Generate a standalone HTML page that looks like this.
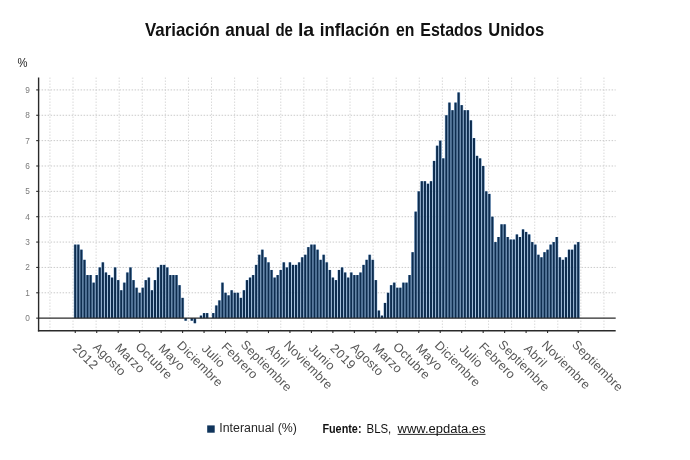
<!DOCTYPE html>
<html lang="es"><head><meta charset="utf-8"><title>Variación anual de la inflación en Estados Unidos</title>
<style>html,body{margin:0;padding:0;background:#fff}svg{display:block}text{font-family:"Liberation Sans",Arial,sans-serif}</style></head><body>
<svg width="690" height="460" viewBox="0 0 690 460">
<rect width="690" height="460" fill="#fff"/>
<text y="35.5" font-size="17.7" font-weight="bold" fill="#111"><tspan x="145.0" textLength="74.9" lengthAdjust="spacingAndGlyphs">Variación</tspan> <tspan x="225.2" textLength="44.7" lengthAdjust="spacingAndGlyphs">anual</tspan> <tspan x="275.4" textLength="17.5" lengthAdjust="spacingAndGlyphs">de</tspan> <tspan x="297.9" textLength="16.3" lengthAdjust="spacingAndGlyphs">la</tspan> <tspan x="319.8" textLength="69.7" lengthAdjust="spacingAndGlyphs">inflación</tspan> <tspan x="396.0" textLength="18.4" lengthAdjust="spacingAndGlyphs">en</tspan> <tspan x="420.3" textLength="62.1" lengthAdjust="spacingAndGlyphs">Estados</tspan> <tspan x="488.3" textLength="55.9" lengthAdjust="spacingAndGlyphs">Unidos</tspan></text>
<text x="17.6" y="66.9" font-size="12.5" fill="#222" textLength="10" lengthAdjust="spacingAndGlyphs">%</text>
<g stroke="#d0d0d0" stroke-width="0.8" stroke-dasharray="1.5,1.5" fill="none">
<line x1="49.94" y1="77.50" x2="49.94" y2="330.75"/>
<line x1="73.03" y1="77.50" x2="73.03" y2="330.75"/>
<line x1="96.11" y1="77.50" x2="96.11" y2="330.75"/>
<line x1="119.19" y1="77.50" x2="119.19" y2="330.75"/>
<line x1="142.28" y1="77.50" x2="142.28" y2="330.75"/>
<line x1="165.36" y1="77.50" x2="165.36" y2="330.75"/>
<line x1="188.45" y1="77.50" x2="188.45" y2="330.75"/>
<line x1="211.53" y1="77.50" x2="211.53" y2="330.75"/>
<line x1="234.61" y1="77.50" x2="234.61" y2="330.75"/>
<line x1="257.70" y1="77.50" x2="257.70" y2="330.75"/>
<line x1="280.78" y1="77.50" x2="280.78" y2="330.75"/>
<line x1="303.87" y1="77.50" x2="303.87" y2="330.75"/>
<line x1="326.95" y1="77.50" x2="326.95" y2="330.75"/>
<line x1="350.03" y1="77.50" x2="350.03" y2="330.75"/>
<line x1="373.12" y1="77.50" x2="373.12" y2="330.75"/>
<line x1="396.20" y1="77.50" x2="396.20" y2="330.75"/>
<line x1="419.29" y1="77.50" x2="419.29" y2="330.75"/>
<line x1="442.37" y1="77.50" x2="442.37" y2="330.75"/>
<line x1="465.45" y1="77.50" x2="465.45" y2="330.75"/>
<line x1="488.54" y1="77.50" x2="488.54" y2="330.75"/>
<line x1="511.62" y1="77.50" x2="511.62" y2="330.75"/>
<line x1="534.71" y1="77.50" x2="534.71" y2="330.75"/>
<line x1="557.79" y1="77.50" x2="557.79" y2="330.75"/>
<line x1="580.87" y1="77.50" x2="580.87" y2="330.75"/>
<line x1="603.96" y1="77.50" x2="603.96" y2="330.75"/>
</g>
<g stroke="#cacaca" stroke-width="1" stroke-dasharray="1.5,1.5" fill="none">
<line x1="38.60" y1="292.79" x2="615.70" y2="292.79"/>
<line x1="38.60" y1="267.43" x2="615.70" y2="267.43"/>
<line x1="38.60" y1="242.07" x2="615.70" y2="242.07"/>
<line x1="38.60" y1="216.71" x2="615.70" y2="216.71"/>
<line x1="38.60" y1="191.35" x2="615.70" y2="191.35"/>
<line x1="38.60" y1="165.99" x2="615.70" y2="165.99"/>
<line x1="38.60" y1="140.63" x2="615.70" y2="140.63"/>
<line x1="38.60" y1="115.27" x2="615.70" y2="115.27"/>
<line x1="38.60" y1="89.91" x2="615.70" y2="89.91"/>
</g>
<g fill="#97bbe0">
<rect x="73.72" y="244.61" width="3.07" height="73.54"/>
<rect x="76.78" y="244.61" width="3.07" height="73.54"/>
<rect x="79.85" y="249.68" width="3.07" height="68.47"/>
<rect x="82.92" y="259.82" width="3.07" height="58.33"/>
<rect x="85.98" y="275.04" width="3.07" height="43.11"/>
<rect x="89.05" y="275.04" width="3.07" height="43.11"/>
<rect x="92.12" y="282.65" width="3.07" height="35.50"/>
<rect x="95.19" y="275.04" width="3.07" height="43.11"/>
<rect x="98.25" y="267.43" width="3.07" height="50.72"/>
<rect x="101.32" y="262.36" width="3.07" height="55.79"/>
<rect x="104.39" y="272.50" width="3.07" height="45.65"/>
<rect x="107.45" y="275.04" width="3.07" height="43.11"/>
<rect x="110.52" y="277.57" width="3.07" height="40.58"/>
<rect x="113.59" y="267.43" width="3.07" height="50.72"/>
<rect x="116.65" y="280.11" width="3.07" height="38.04"/>
<rect x="119.72" y="290.25" width="3.07" height="27.90"/>
<rect x="122.79" y="282.65" width="3.07" height="35.50"/>
<rect x="125.86" y="272.50" width="3.07" height="45.65"/>
<rect x="128.92" y="267.43" width="3.07" height="50.72"/>
<rect x="131.99" y="280.11" width="3.07" height="38.04"/>
<rect x="135.06" y="287.72" width="3.07" height="30.43"/>
<rect x="138.12" y="292.79" width="3.07" height="25.36"/>
<rect x="141.19" y="287.72" width="3.07" height="30.43"/>
<rect x="144.26" y="280.11" width="3.07" height="38.04"/>
<rect x="147.32" y="277.57" width="3.07" height="40.58"/>
<rect x="150.39" y="290.25" width="3.07" height="27.90"/>
<rect x="153.46" y="280.11" width="3.07" height="38.04"/>
<rect x="156.53" y="267.43" width="3.07" height="50.72"/>
<rect x="159.59" y="264.89" width="3.07" height="53.26"/>
<rect x="162.66" y="264.89" width="3.07" height="53.26"/>
<rect x="165.73" y="267.43" width="3.07" height="50.72"/>
<rect x="168.79" y="275.04" width="3.07" height="43.11"/>
<rect x="171.86" y="275.04" width="3.07" height="43.11"/>
<rect x="174.93" y="275.04" width="3.07" height="43.11"/>
<rect x="177.99" y="285.18" width="3.07" height="32.97"/>
<rect x="181.06" y="297.86" width="3.07" height="20.29"/>
<rect x="184.13" y="318.15" width="3.07" height="2.54"/>
<rect x="190.26" y="318.15" width="3.07" height="2.54"/>
<rect x="193.33" y="318.15" width="3.07" height="5.07"/>
<rect x="199.46" y="315.61" width="3.07" height="2.54"/>
<rect x="202.53" y="313.08" width="3.07" height="5.07"/>
<rect x="205.60" y="313.08" width="3.07" height="5.07"/>
<rect x="211.73" y="313.08" width="3.07" height="5.07"/>
<rect x="214.80" y="305.47" width="3.07" height="12.68"/>
<rect x="217.87" y="300.40" width="3.07" height="17.75"/>
<rect x="220.93" y="282.65" width="3.07" height="35.50"/>
<rect x="224.00" y="292.79" width="3.07" height="25.36"/>
<rect x="227.07" y="295.33" width="3.07" height="22.82"/>
<rect x="230.13" y="290.25" width="3.07" height="27.90"/>
<rect x="233.20" y="292.79" width="3.07" height="25.36"/>
<rect x="236.27" y="292.79" width="3.07" height="25.36"/>
<rect x="239.33" y="297.86" width="3.07" height="20.29"/>
<rect x="242.40" y="290.25" width="3.07" height="27.90"/>
<rect x="245.47" y="280.11" width="3.07" height="38.04"/>
<rect x="248.54" y="277.57" width="3.07" height="40.58"/>
<rect x="251.60" y="275.04" width="3.07" height="43.11"/>
<rect x="254.67" y="264.89" width="3.07" height="53.26"/>
<rect x="257.74" y="254.75" width="3.07" height="63.40"/>
<rect x="260.80" y="249.68" width="3.07" height="68.47"/>
<rect x="263.87" y="257.29" width="3.07" height="60.86"/>
<rect x="266.94" y="262.36" width="3.07" height="55.79"/>
<rect x="270.00" y="269.97" width="3.07" height="48.18"/>
<rect x="273.07" y="277.57" width="3.07" height="40.58"/>
<rect x="276.14" y="275.04" width="3.07" height="43.11"/>
<rect x="279.21" y="269.97" width="3.07" height="48.18"/>
<rect x="282.27" y="262.36" width="3.07" height="55.79"/>
<rect x="285.34" y="267.43" width="3.07" height="50.72"/>
<rect x="288.41" y="262.36" width="3.07" height="55.79"/>
<rect x="291.47" y="264.89" width="3.07" height="53.26"/>
<rect x="294.54" y="264.89" width="3.07" height="53.26"/>
<rect x="297.61" y="262.36" width="3.07" height="55.79"/>
<rect x="300.67" y="257.29" width="3.07" height="60.86"/>
<rect x="303.74" y="254.75" width="3.07" height="63.40"/>
<rect x="306.81" y="247.14" width="3.07" height="71.01"/>
<rect x="309.88" y="244.61" width="3.07" height="73.54"/>
<rect x="312.94" y="244.61" width="3.07" height="73.54"/>
<rect x="316.01" y="249.68" width="3.07" height="68.47"/>
<rect x="319.08" y="259.82" width="3.07" height="58.33"/>
<rect x="322.14" y="254.75" width="3.07" height="63.40"/>
<rect x="325.21" y="262.36" width="3.07" height="55.79"/>
<rect x="328.28" y="269.97" width="3.07" height="48.18"/>
<rect x="331.34" y="277.57" width="3.07" height="40.58"/>
<rect x="334.41" y="280.11" width="3.07" height="38.04"/>
<rect x="337.48" y="269.97" width="3.07" height="48.18"/>
<rect x="340.55" y="267.43" width="3.07" height="50.72"/>
<rect x="343.61" y="272.50" width="3.07" height="45.65"/>
<rect x="346.68" y="277.57" width="3.07" height="40.58"/>
<rect x="349.75" y="272.50" width="3.07" height="45.65"/>
<rect x="352.81" y="275.04" width="3.07" height="43.11"/>
<rect x="355.88" y="275.04" width="3.07" height="43.11"/>
<rect x="358.95" y="272.50" width="3.07" height="45.65"/>
<rect x="362.01" y="264.89" width="3.07" height="53.26"/>
<rect x="365.08" y="259.82" width="3.07" height="58.33"/>
<rect x="368.15" y="254.75" width="3.07" height="63.40"/>
<rect x="371.22" y="259.82" width="3.07" height="58.33"/>
<rect x="374.28" y="280.11" width="3.07" height="38.04"/>
<rect x="377.35" y="310.54" width="3.07" height="7.61"/>
<rect x="380.42" y="315.61" width="3.07" height="2.54"/>
<rect x="383.48" y="302.93" width="3.07" height="15.22"/>
<rect x="386.55" y="292.79" width="3.07" height="25.36"/>
<rect x="389.62" y="285.18" width="3.07" height="32.97"/>
<rect x="392.68" y="282.65" width="3.07" height="35.50"/>
<rect x="395.75" y="287.72" width="3.07" height="30.43"/>
<rect x="398.82" y="287.72" width="3.07" height="30.43"/>
<rect x="401.89" y="282.65" width="3.07" height="35.50"/>
<rect x="404.95" y="282.65" width="3.07" height="35.50"/>
<rect x="408.02" y="275.04" width="3.07" height="43.11"/>
<rect x="411.09" y="252.21" width="3.07" height="65.94"/>
<rect x="414.15" y="211.64" width="3.07" height="106.51"/>
<rect x="417.22" y="191.35" width="3.07" height="126.80"/>
<rect x="420.29" y="181.21" width="3.07" height="136.94"/>
<rect x="423.35" y="181.21" width="3.07" height="136.94"/>
<rect x="426.42" y="183.74" width="3.07" height="134.41"/>
<rect x="429.49" y="181.21" width="3.07" height="136.94"/>
<rect x="432.56" y="160.92" width="3.07" height="157.23"/>
<rect x="435.62" y="145.70" width="3.07" height="172.45"/>
<rect x="438.69" y="140.63" width="3.07" height="177.52"/>
<rect x="441.76" y="158.38" width="3.07" height="159.77"/>
<rect x="444.82" y="115.27" width="3.07" height="202.88"/>
<rect x="447.89" y="102.59" width="3.07" height="215.56"/>
<rect x="450.96" y="110.20" width="3.07" height="207.95"/>
<rect x="454.02" y="102.59" width="3.07" height="215.56"/>
<rect x="457.09" y="92.45" width="3.07" height="225.70"/>
<rect x="460.16" y="105.13" width="3.07" height="213.02"/>
<rect x="463.23" y="110.20" width="3.07" height="207.95"/>
<rect x="466.29" y="110.20" width="3.07" height="207.95"/>
<rect x="469.36" y="120.34" width="3.07" height="197.81"/>
<rect x="472.43" y="138.09" width="3.07" height="180.06"/>
<rect x="475.49" y="155.85" width="3.07" height="162.30"/>
<rect x="478.56" y="158.38" width="3.07" height="159.77"/>
<rect x="481.63" y="165.99" width="3.07" height="152.16"/>
<rect x="484.69" y="191.35" width="3.07" height="126.80"/>
<rect x="487.76" y="193.89" width="3.07" height="124.26"/>
<rect x="490.83" y="216.71" width="3.07" height="101.44"/>
<rect x="493.90" y="242.07" width="3.07" height="76.08"/>
<rect x="496.96" y="237.00" width="3.07" height="81.15"/>
<rect x="500.03" y="224.32" width="3.07" height="93.83"/>
<rect x="503.10" y="224.32" width="3.07" height="93.83"/>
<rect x="506.16" y="237.00" width="3.07" height="81.15"/>
<rect x="509.23" y="239.53" width="3.07" height="78.62"/>
<rect x="512.30" y="239.53" width="3.07" height="78.62"/>
<rect x="515.36" y="234.46" width="3.07" height="83.69"/>
<rect x="518.43" y="237.00" width="3.07" height="81.15"/>
<rect x="521.50" y="229.39" width="3.07" height="88.76"/>
<rect x="524.57" y="231.93" width="3.07" height="86.22"/>
<rect x="527.63" y="234.46" width="3.07" height="83.69"/>
<rect x="530.70" y="242.07" width="3.07" height="76.08"/>
<rect x="533.77" y="244.61" width="3.07" height="73.54"/>
<rect x="536.83" y="254.75" width="3.07" height="63.40"/>
<rect x="539.90" y="257.29" width="3.07" height="60.86"/>
<rect x="542.97" y="252.21" width="3.07" height="65.94"/>
<rect x="546.03" y="249.68" width="3.07" height="68.47"/>
<rect x="549.10" y="244.61" width="3.07" height="73.54"/>
<rect x="552.17" y="242.07" width="3.07" height="76.08"/>
<rect x="555.24" y="237.00" width="3.07" height="81.15"/>
<rect x="558.30" y="257.29" width="3.07" height="60.86"/>
<rect x="561.37" y="259.82" width="3.07" height="58.33"/>
<rect x="564.44" y="257.29" width="3.07" height="60.86"/>
<rect x="567.50" y="249.68" width="3.07" height="68.47"/>
<rect x="570.57" y="249.68" width="3.07" height="68.47"/>
<rect x="573.64" y="244.61" width="3.07" height="73.54"/>
<rect x="576.70" y="242.07" width="3.07" height="76.08"/>
</g>
<g fill="#0e2d4f">
<rect x="74.20" y="244.61" width="2.10" height="73.54"/>
<rect x="77.27" y="244.61" width="2.10" height="73.54"/>
<rect x="80.33" y="249.68" width="2.10" height="68.47"/>
<rect x="83.40" y="259.82" width="2.10" height="58.33"/>
<rect x="86.47" y="275.04" width="2.10" height="43.11"/>
<rect x="89.54" y="275.04" width="2.10" height="43.11"/>
<rect x="92.60" y="282.65" width="2.10" height="35.50"/>
<rect x="95.67" y="275.04" width="2.10" height="43.11"/>
<rect x="98.74" y="267.43" width="2.10" height="50.72"/>
<rect x="101.80" y="262.36" width="2.10" height="55.79"/>
<rect x="104.87" y="272.50" width="2.10" height="45.65"/>
<rect x="107.94" y="275.04" width="2.10" height="43.11"/>
<rect x="111.00" y="277.57" width="2.10" height="40.58"/>
<rect x="114.07" y="267.43" width="2.10" height="50.72"/>
<rect x="117.14" y="280.11" width="2.10" height="38.04"/>
<rect x="120.20" y="290.25" width="2.10" height="27.90"/>
<rect x="123.27" y="282.65" width="2.10" height="35.50"/>
<rect x="126.34" y="272.50" width="2.10" height="45.65"/>
<rect x="129.41" y="267.43" width="2.10" height="50.72"/>
<rect x="132.47" y="280.11" width="2.10" height="38.04"/>
<rect x="135.54" y="287.72" width="2.10" height="30.43"/>
<rect x="138.61" y="292.79" width="2.10" height="25.36"/>
<rect x="141.67" y="287.72" width="2.10" height="30.43"/>
<rect x="144.74" y="280.11" width="2.10" height="38.04"/>
<rect x="147.81" y="277.57" width="2.10" height="40.58"/>
<rect x="150.88" y="290.25" width="2.10" height="27.90"/>
<rect x="153.94" y="280.11" width="2.10" height="38.04"/>
<rect x="157.01" y="267.43" width="2.10" height="50.72"/>
<rect x="160.08" y="264.89" width="2.10" height="53.26"/>
<rect x="163.14" y="264.89" width="2.10" height="53.26"/>
<rect x="166.21" y="267.43" width="2.10" height="50.72"/>
<rect x="169.28" y="275.04" width="2.10" height="43.11"/>
<rect x="172.34" y="275.04" width="2.10" height="43.11"/>
<rect x="175.41" y="275.04" width="2.10" height="43.11"/>
<rect x="178.48" y="285.18" width="2.10" height="32.97"/>
<rect x="181.54" y="297.86" width="2.10" height="20.29"/>
<rect x="184.61" y="318.15" width="2.10" height="2.54"/>
<rect x="190.75" y="318.15" width="2.10" height="2.54"/>
<rect x="193.81" y="318.15" width="2.10" height="5.07"/>
<rect x="199.95" y="315.61" width="2.10" height="2.54"/>
<rect x="203.01" y="313.08" width="2.10" height="5.07"/>
<rect x="206.08" y="313.08" width="2.10" height="5.07"/>
<rect x="212.22" y="313.08" width="2.10" height="5.07"/>
<rect x="215.28" y="305.47" width="2.10" height="12.68"/>
<rect x="218.35" y="300.40" width="2.10" height="17.75"/>
<rect x="221.42" y="282.65" width="2.10" height="35.50"/>
<rect x="224.48" y="292.79" width="2.10" height="25.36"/>
<rect x="227.55" y="295.33" width="2.10" height="22.82"/>
<rect x="230.62" y="290.25" width="2.10" height="27.90"/>
<rect x="233.68" y="292.79" width="2.10" height="25.36"/>
<rect x="236.75" y="292.79" width="2.10" height="25.36"/>
<rect x="239.82" y="297.86" width="2.10" height="20.29"/>
<rect x="242.88" y="290.25" width="2.10" height="27.90"/>
<rect x="245.95" y="280.11" width="2.10" height="38.04"/>
<rect x="249.02" y="277.57" width="2.10" height="40.58"/>
<rect x="252.09" y="275.04" width="2.10" height="43.11"/>
<rect x="255.15" y="264.89" width="2.10" height="53.26"/>
<rect x="258.22" y="254.75" width="2.10" height="63.40"/>
<rect x="261.29" y="249.68" width="2.10" height="68.47"/>
<rect x="264.35" y="257.29" width="2.10" height="60.86"/>
<rect x="267.42" y="262.36" width="2.10" height="55.79"/>
<rect x="270.49" y="269.97" width="2.10" height="48.18"/>
<rect x="273.56" y="277.57" width="2.10" height="40.58"/>
<rect x="276.62" y="275.04" width="2.10" height="43.11"/>
<rect x="279.69" y="269.97" width="2.10" height="48.18"/>
<rect x="282.76" y="262.36" width="2.10" height="55.79"/>
<rect x="285.82" y="267.43" width="2.10" height="50.72"/>
<rect x="288.89" y="262.36" width="2.10" height="55.79"/>
<rect x="291.96" y="264.89" width="2.10" height="53.26"/>
<rect x="295.02" y="264.89" width="2.10" height="53.26"/>
<rect x="298.09" y="262.36" width="2.10" height="55.79"/>
<rect x="301.16" y="257.29" width="2.10" height="60.86"/>
<rect x="304.22" y="254.75" width="2.10" height="63.40"/>
<rect x="307.29" y="247.14" width="2.10" height="71.01"/>
<rect x="310.36" y="244.61" width="2.10" height="73.54"/>
<rect x="313.43" y="244.61" width="2.10" height="73.54"/>
<rect x="316.49" y="249.68" width="2.10" height="68.47"/>
<rect x="319.56" y="259.82" width="2.10" height="58.33"/>
<rect x="322.63" y="254.75" width="2.10" height="63.40"/>
<rect x="325.69" y="262.36" width="2.10" height="55.79"/>
<rect x="328.76" y="269.97" width="2.10" height="48.18"/>
<rect x="331.83" y="277.57" width="2.10" height="40.58"/>
<rect x="334.89" y="280.11" width="2.10" height="38.04"/>
<rect x="337.96" y="269.97" width="2.10" height="48.18"/>
<rect x="341.03" y="267.43" width="2.10" height="50.72"/>
<rect x="344.10" y="272.50" width="2.10" height="45.65"/>
<rect x="347.16" y="277.57" width="2.10" height="40.58"/>
<rect x="350.23" y="272.50" width="2.10" height="45.65"/>
<rect x="353.30" y="275.04" width="2.10" height="43.11"/>
<rect x="356.36" y="275.04" width="2.10" height="43.11"/>
<rect x="359.43" y="272.50" width="2.10" height="45.65"/>
<rect x="362.50" y="264.89" width="2.10" height="53.26"/>
<rect x="365.56" y="259.82" width="2.10" height="58.33"/>
<rect x="368.63" y="254.75" width="2.10" height="63.40"/>
<rect x="371.70" y="259.82" width="2.10" height="58.33"/>
<rect x="374.77" y="280.11" width="2.10" height="38.04"/>
<rect x="377.83" y="310.54" width="2.10" height="7.61"/>
<rect x="380.90" y="315.61" width="2.10" height="2.54"/>
<rect x="383.97" y="302.93" width="2.10" height="15.22"/>
<rect x="387.03" y="292.79" width="2.10" height="25.36"/>
<rect x="390.10" y="285.18" width="2.10" height="32.97"/>
<rect x="393.17" y="282.65" width="2.10" height="35.50"/>
<rect x="396.24" y="287.72" width="2.10" height="30.43"/>
<rect x="399.30" y="287.72" width="2.10" height="30.43"/>
<rect x="402.37" y="282.65" width="2.10" height="35.50"/>
<rect x="405.44" y="282.65" width="2.10" height="35.50"/>
<rect x="408.50" y="275.04" width="2.10" height="43.11"/>
<rect x="411.57" y="252.21" width="2.10" height="65.94"/>
<rect x="414.64" y="211.64" width="2.10" height="106.51"/>
<rect x="417.70" y="191.35" width="2.10" height="126.80"/>
<rect x="420.77" y="181.21" width="2.10" height="136.94"/>
<rect x="423.84" y="181.21" width="2.10" height="136.94"/>
<rect x="426.91" y="183.74" width="2.10" height="134.41"/>
<rect x="429.97" y="181.21" width="2.10" height="136.94"/>
<rect x="433.04" y="160.92" width="2.10" height="157.23"/>
<rect x="436.11" y="145.70" width="2.10" height="172.45"/>
<rect x="439.17" y="140.63" width="2.10" height="177.52"/>
<rect x="442.24" y="158.38" width="2.10" height="159.77"/>
<rect x="445.31" y="115.27" width="2.10" height="202.88"/>
<rect x="448.37" y="102.59" width="2.10" height="215.56"/>
<rect x="451.44" y="110.20" width="2.10" height="207.95"/>
<rect x="454.51" y="102.59" width="2.10" height="215.56"/>
<rect x="457.57" y="92.45" width="2.10" height="225.70"/>
<rect x="460.64" y="105.13" width="2.10" height="213.02"/>
<rect x="463.71" y="110.20" width="2.10" height="207.95"/>
<rect x="466.78" y="110.20" width="2.10" height="207.95"/>
<rect x="469.84" y="120.34" width="2.10" height="197.81"/>
<rect x="472.91" y="138.09" width="2.10" height="180.06"/>
<rect x="475.98" y="155.85" width="2.10" height="162.30"/>
<rect x="479.04" y="158.38" width="2.10" height="159.77"/>
<rect x="482.11" y="165.99" width="2.10" height="152.16"/>
<rect x="485.18" y="191.35" width="2.10" height="126.80"/>
<rect x="488.25" y="193.89" width="2.10" height="124.26"/>
<rect x="491.31" y="216.71" width="2.10" height="101.44"/>
<rect x="494.38" y="242.07" width="2.10" height="76.08"/>
<rect x="497.45" y="237.00" width="2.10" height="81.15"/>
<rect x="500.51" y="224.32" width="2.10" height="93.83"/>
<rect x="503.58" y="224.32" width="2.10" height="93.83"/>
<rect x="506.65" y="237.00" width="2.10" height="81.15"/>
<rect x="509.71" y="239.53" width="2.10" height="78.62"/>
<rect x="512.78" y="239.53" width="2.10" height="78.62"/>
<rect x="515.85" y="234.46" width="2.10" height="83.69"/>
<rect x="518.92" y="237.00" width="2.10" height="81.15"/>
<rect x="521.98" y="229.39" width="2.10" height="88.76"/>
<rect x="525.05" y="231.93" width="2.10" height="86.22"/>
<rect x="528.12" y="234.46" width="2.10" height="83.69"/>
<rect x="531.18" y="242.07" width="2.10" height="76.08"/>
<rect x="534.25" y="244.61" width="2.10" height="73.54"/>
<rect x="537.32" y="254.75" width="2.10" height="63.40"/>
<rect x="540.38" y="257.29" width="2.10" height="60.86"/>
<rect x="543.45" y="252.21" width="2.10" height="65.94"/>
<rect x="546.52" y="249.68" width="2.10" height="68.47"/>
<rect x="549.59" y="244.61" width="2.10" height="73.54"/>
<rect x="552.65" y="242.07" width="2.10" height="76.08"/>
<rect x="555.72" y="237.00" width="2.10" height="81.15"/>
<rect x="558.79" y="257.29" width="2.10" height="60.86"/>
<rect x="561.85" y="259.82" width="2.10" height="58.33"/>
<rect x="564.92" y="257.29" width="2.10" height="60.86"/>
<rect x="567.99" y="249.68" width="2.10" height="68.47"/>
<rect x="571.05" y="249.68" width="2.10" height="68.47"/>
<rect x="574.12" y="244.61" width="2.10" height="73.54"/>
<rect x="577.19" y="242.07" width="2.10" height="76.08"/>
</g>
<g stroke="#2a2a2a" stroke-width="1.4" fill="none">
<line x1="38.60" y1="77.50" x2="38.60" y2="331.45"/>
<line x1="37.90" y1="330.75" x2="615.70" y2="330.75"/>
<line x1="38.60" y1="318.15" x2="615.70" y2="318.15"/>
</g>
<g stroke="#2a2a2a" stroke-width="1.1" fill="none">
<line x1="36.20" y1="318.15" x2="38.60" y2="318.15"/>
<line x1="36.20" y1="292.79" x2="38.60" y2="292.79"/>
<line x1="36.20" y1="267.43" x2="38.60" y2="267.43"/>
<line x1="36.20" y1="242.07" x2="38.60" y2="242.07"/>
<line x1="36.20" y1="216.71" x2="38.60" y2="216.71"/>
<line x1="36.20" y1="191.35" x2="38.60" y2="191.35"/>
<line x1="36.20" y1="165.99" x2="38.60" y2="165.99"/>
<line x1="36.20" y1="140.63" x2="38.60" y2="140.63"/>
<line x1="36.20" y1="115.27" x2="38.60" y2="115.27"/>
<line x1="36.20" y1="89.91" x2="38.60" y2="89.91"/>
<line x1="75.25" y1="330.75" x2="75.25" y2="333.05"/>
<line x1="96.72" y1="330.75" x2="96.72" y2="333.05"/>
<line x1="118.19" y1="330.75" x2="118.19" y2="333.05"/>
<line x1="139.66" y1="330.75" x2="139.66" y2="333.05"/>
<line x1="161.13" y1="330.75" x2="161.13" y2="333.05"/>
<line x1="182.59" y1="330.75" x2="182.59" y2="333.05"/>
<line x1="204.06" y1="330.75" x2="204.06" y2="333.05"/>
<line x1="225.53" y1="330.75" x2="225.53" y2="333.05"/>
<line x1="247.00" y1="330.75" x2="247.00" y2="333.05"/>
<line x1="268.47" y1="330.75" x2="268.47" y2="333.05"/>
<line x1="289.94" y1="330.75" x2="289.94" y2="333.05"/>
<line x1="311.41" y1="330.75" x2="311.41" y2="333.05"/>
<line x1="332.88" y1="330.75" x2="332.88" y2="333.05"/>
<line x1="354.35" y1="330.75" x2="354.35" y2="333.05"/>
<line x1="375.82" y1="330.75" x2="375.82" y2="333.05"/>
<line x1="397.29" y1="330.75" x2="397.29" y2="333.05"/>
<line x1="418.75" y1="330.75" x2="418.75" y2="333.05"/>
<line x1="440.22" y1="330.75" x2="440.22" y2="333.05"/>
<line x1="461.69" y1="330.75" x2="461.69" y2="333.05"/>
<line x1="483.16" y1="330.75" x2="483.16" y2="333.05"/>
<line x1="504.63" y1="330.75" x2="504.63" y2="333.05"/>
<line x1="526.10" y1="330.75" x2="526.10" y2="333.05"/>
<line x1="547.57" y1="330.75" x2="547.57" y2="333.05"/>
<line x1="578.24" y1="330.75" x2="578.24" y2="333.05"/>
</g>
<g font-size="8.3" fill="#7a7a7a" text-anchor="end">
<text x="29.8" y="321.15">0</text>
<text x="29.8" y="295.79">1</text>
<text x="29.8" y="270.43">2</text>
<text x="29.8" y="245.07">3</text>
<text x="29.8" y="219.71">4</text>
<text x="29.8" y="194.35">5</text>
<text x="29.8" y="168.99">6</text>
<text x="29.8" y="143.63">7</text>
<text x="29.8" y="118.27">8</text>
<text x="29.8" y="92.91">9</text>
</g>
<g font-size="12.5" fill="#555">
<text transform="translate(75.25,340.60) rotate(45)" x="3.69" y="8.3" letter-spacing="0.55">2012</text>
<text transform="translate(96.72,340.60) rotate(45)" x="2.16" y="8.3" letter-spacing="0.25">Agosto</text>
<text transform="translate(118.19,340.60) rotate(45)" x="2.81" y="8.3" letter-spacing="0.25">Marzo</text>
<text transform="translate(139.66,340.60) rotate(45)" x="1.31" y="8.3" letter-spacing="0.25">Octubre</text>
<text transform="translate(161.13,340.60) rotate(45)" x="3.46" y="8.3" letter-spacing="0.25">Mayo</text>
<text transform="translate(182.59,340.60) rotate(45)" x="-0.50" y="8.3" letter-spacing="0.25">Diciembre</text>
<text transform="translate(204.06,340.60) rotate(45)" x="4.14" y="8.3" letter-spacing="0.25">Julio</text>
<text transform="translate(225.53,340.60) rotate(45)" x="1.41" y="8.3" letter-spacing="0.25">Febrero</text>
<text transform="translate(247.00,340.60) rotate(45)" x="-1.66" y="8.3" letter-spacing="0.25">Septiembre</text>
<text transform="translate(268.47,340.60) rotate(45)" x="4.24" y="8.3" letter-spacing="0.25">Abril</text>
<text transform="translate(289.94,340.60) rotate(45)" x="-1.11" y="8.3" letter-spacing="0.25">Noviembre</text>
<text transform="translate(311.41,340.60) rotate(45)" x="3.52" y="8.3" letter-spacing="0.25">Junio</text>
<text transform="translate(332.88,340.60) rotate(45)" x="3.69" y="8.3" letter-spacing="0.55">2019</text>
<text transform="translate(354.35,340.60) rotate(45)" x="2.16" y="8.3" letter-spacing="0.25">Agosto</text>
<text transform="translate(375.82,340.60) rotate(45)" x="2.81" y="8.3" letter-spacing="0.25">Marzo</text>
<text transform="translate(397.29,340.60) rotate(45)" x="1.31" y="8.3" letter-spacing="0.25">Octubre</text>
<text transform="translate(418.75,340.60) rotate(45)" x="3.46" y="8.3" letter-spacing="0.25">Mayo</text>
<text transform="translate(440.22,340.60) rotate(45)" x="-0.50" y="8.3" letter-spacing="0.25">Diciembre</text>
<text transform="translate(461.69,340.60) rotate(45)" x="4.14" y="8.3" letter-spacing="0.25">Julio</text>
<text transform="translate(483.16,340.60) rotate(45)" x="1.41" y="8.3" letter-spacing="0.25">Febrero</text>
<text transform="translate(504.63,340.60) rotate(45)" x="-1.66" y="8.3" letter-spacing="0.25">Septiembre</text>
<text transform="translate(526.10,340.60) rotate(45)" x="4.24" y="8.3" letter-spacing="0.25">Abril</text>
<text transform="translate(547.57,340.60) rotate(45)" x="-1.11" y="8.3" letter-spacing="0.25">Noviembre</text>
<text transform="translate(578.24,340.60) rotate(45)" x="-1.66" y="8.3" letter-spacing="0.25">Septiembre</text>
</g>
<rect x="207.2" y="425.4" width="7.5" height="7.3" fill="#0f345b"/>
<text x="219.3" y="432.4" font-size="12.5" fill="#262626" textLength="77.7" lengthAdjust="spacingAndGlyphs">Interanual (%)</text>
<text x="322.4" y="432.6" font-size="12.5" font-weight="bold" fill="#111" textLength="39.1" lengthAdjust="spacingAndGlyphs">Fuente:</text>
<text x="366.5" y="432.6" font-size="12.5" fill="#111" textLength="24.8" lengthAdjust="spacingAndGlyphs">BLS,</text>
<text x="397.6" y="432.6" font-size="12.5" fill="#111" textLength="87.9" lengthAdjust="spacingAndGlyphs">www.epdata.es</text>
<line x1="397.6" y1="434.4" x2="485.5" y2="434.4" stroke="#111" stroke-width="0.9"/>
</svg></body></html>
